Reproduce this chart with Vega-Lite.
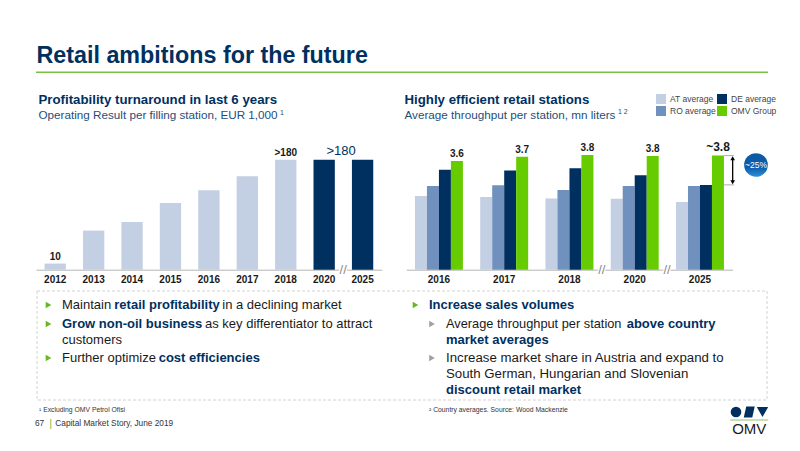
{
  "$schema": "https://vega.github.io/schema/vega-lite/v6.json",
  "description": "Retail ambitions for the future",
  "width": 800,
  "height": 451,
  "padding": 0,
  "autosize": {"type": "fit", "contains": "padding"},
  "background": "white",
  "config": {"view": {"stroke": null}, "font": "Liberation Sans"},
  "resolve": {"scale": {"x": "independent", "y": "independent", "color": "independent", "xOffset": "independent"}},
  "layer": [
    {
      "data": {"values": [{"from": 0, "to": 1, "top": 0, "bottom": 1}]},
      "mark": {"type": "rect", "fill": null, "stroke": "#d2d2d2", "strokeWidth": 1, "strokeDash": [3, 2]},
      "encoding": {
        "x": {"field": "from", "type": "quantitative", "axis": null, "scale": {"domain": [0, 1], "range": [37, 767]}},
        "x2": {"field": "to"},
        "y": {"field": "top", "type": "quantitative", "axis": null, "scale": {"domain": [0, 1], "range": [291, 400]}},
        "y2": {"field": "bottom"}
      }
    },
    {
      "data": {"values": [{"from": 0, "to": 1, "top": 0, "bottom": 1}]},
      "mark": {"type": "rect", "fill": "#7ac143"},
      "encoding": {
        "x": {"field": "from", "type": "quantitative", "axis": null, "scale": {"domain": [0, 1], "range": [36, 768]}},
        "x2": {"field": "to"},
        "y": {"field": "top", "type": "quantitative", "axis": null, "scale": {"domain": [0, 1], "range": [71.6, 73]}},
        "y2": {"field": "bottom"}
      }
    },
    {
      "encoding": {
        "x": {"field": "panel", "type": "nominal", "axis": null, "scale": {"type": "point", "padding": 0, "domain": ["left", "right"], "range": [38.5, 404.5]}},
        "y": {"field": "line", "type": "nominal", "axis": null, "scale": {"type": "point", "padding": 0, "domain": ["head", "sub"], "range": [100, 114.5]}},
        "text": {"field": "text"}
      },
      "layer": [
        {
          "data": {"values": [{"panel": "left", "line": "head", "text": "Retail ambitions for the future"}]},
          "mark": {"type": "text", "align": "left", "baseline": "middle", "fontWeight": "bold", "fontSize": 23.3, "color": "#00305f", "dx": -2, "dy": -44}
        },
        {
          "data": {"values": [
            {"panel": "left", "line": "head", "text": "Profitability turnaround in last 6 years"},
            {"panel": "right", "line": "head", "text": "Highly efficient retail stations"}
          ]},
          "mark": {"type": "text", "align": "left", "baseline": "middle", "fontWeight": "bold", "fontSize": 13.25, "color": "#00305f"}
        },
        {
          "data": {"values": [
            {"panel": "left", "line": "sub", "text": "Operating Result per filling station, EUR 1,000"},
            {"panel": "right", "line": "sub", "text": "Average throughput per station, mn liters"}
          ]},
          "mark": {"type": "text", "align": "left", "baseline": "middle", "fontSize": 11.7, "color": "#1f4e79"}
        },
        {
          "data": {"values": [{"panel": "left", "line": "sub", "text": "1"}]},
          "mark": {"type": "text", "align": "left", "baseline": "middle", "fontSize": 7, "color": "#1f4e79", "dx": 241.5, "dy": -2}
        },
        {
          "data": {"values": [{"panel": "right", "line": "sub", "text": "1  2"}]},
          "mark": {"type": "text", "align": "left", "baseline": "middle", "fontSize": 7, "color": "#1f4e79", "dx": 213.5, "dy": -3}
        }
      ]
    },
    {
      "encoding": {
        "x": {"field": "year", "type": "nominal", "title": null, "scale": {"type": "band", "domain": ["2012", "2013", "2014", "2015", "2016", "2017", "2018", "2020", "2025"], "range": [36, 381.8], "paddingInner": 0.445, "paddingOuter": 0.2225, "round": false},
          "axis": {"orient": "bottom", "offset": -181.3, "ticks": false, "labelAngle": 0, "labelFontSize": 10, "labelFontWeight": "bold", "labelColor": "#1a1a1a", "labelPadding": 5, "domainColor": "#b5b5b5", "domainWidth": 1, "grid": false}},
        "y": {"field": "value", "type": "quantitative", "axis": null, "scale": {"domain": [0, 180], "range": [269.7, 159.7]}}
      },
      "layer": [
        {
          "data": {"name": "profit", "values": [
            {"year": "2012", "value": 10, "period": "actual", "label": "10"},
            {"year": "2013", "value": 64, "period": "actual"},
            {"year": "2014", "value": 78, "period": "actual"},
            {"year": "2015", "value": 109, "period": "actual"},
            {"year": "2016", "value": 130, "period": "actual"},
            {"year": "2017", "value": 153, "period": "actual"},
            {"year": "2018", "value": 180, "period": "actual", "label": ">180"},
            {"year": "2020", "value": 180, "period": "target"},
            {"year": "2025", "value": 180, "period": "target"}
          ]},
          "mark": {"type": "bar"},
          "encoding": {
            "color": {"field": "period", "type": "nominal", "legend": null, "scale": {"domain": ["actual", "target"], "range": ["#c3cfe2", "#00305f"]}}
          }
        },
        {
          "data": {"name": "profit"},
          "transform": [{"filter": "datum.label"}],
          "mark": {"type": "text", "baseline": "bottom", "fontSize": 10, "fontWeight": "bold", "color": "#1a1a1a", "dy": -2},
          "encoding": {"text": {"field": "label"}}
        },
        {
          "data": {"values": [{"year": "2020", "value": 180, "label": ">180"}]},
          "mark": {"type": "text", "baseline": "bottom", "fontSize": 13, "color": "#00305f", "dx": 17, "dy": -2},
          "encoding": {"text": {"field": "label"}}
        },
        {
          "data": {"values": [{"year": "2020", "value": 0, "label": "//"}]},
          "mark": {"type": "text", "baseline": "middle", "fontSize": 13, "color": "white", "stroke": "white", "strokeWidth": 2.5, "dx": 19},
          "encoding": {"text": {"field": "label"}}
        },
        {
          "data": {"values": [{"year": "2020", "value": 0, "label": "//"}]},
          "mark": {"type": "text", "baseline": "middle", "fontSize": 13, "color": "#8a8a8a", "dx": 19},
          "encoding": {"text": {"field": "label"}}
        }
      ]
    },
    {
      "encoding": {
        "x": {"field": "year", "type": "nominal", "title": null, "scale": {"type": "band", "domain": ["2016", "2017", "2018", "2020", "2025"], "range": [406.3, 732.6], "paddingInner": 0.265, "paddingOuter": 0.1325, "round": false},
          "axis": {"orient": "bottom", "offset": -181.3, "ticks": false, "labelAngle": 0, "labelFontSize": 10, "labelFontWeight": "bold", "labelColor": "#1a1a1a", "labelPadding": 5, "domainColor": "#b5b5b5", "domainWidth": 1, "grid": false}},
        "y": {"field": "value", "type": "quantitative", "axis": null, "stack": null, "scale": {"domain": [0, 3.8], "range": [269.7, 155]}}
      },
      "layer": [
        {
          "data": {"name": "throughput", "values": [
            {"year": "2016", "series": "AT average", "value": 2.44},
            {"year": "2016", "series": "RO average", "value": 2.77},
            {"year": "2016", "series": "DE average", "value": 3.31},
            {"year": "2016", "series": "OMV Group", "value": 3.6, "label": "3.6"},
            {"year": "2017", "series": "AT average", "value": 2.41},
            {"year": "2017", "series": "RO average", "value": 2.8},
            {"year": "2017", "series": "DE average", "value": 3.29},
            {"year": "2017", "series": "OMV Group", "value": 3.74, "label": "3.7"},
            {"year": "2018", "series": "AT average", "value": 2.36},
            {"year": "2018", "series": "RO average", "value": 2.64},
            {"year": "2018", "series": "DE average", "value": 3.36},
            {"year": "2018", "series": "OMV Group", "value": 3.8, "label": "3.8"},
            {"year": "2020", "series": "AT average", "value": 2.35},
            {"year": "2020", "series": "RO average", "value": 2.77},
            {"year": "2020", "series": "DE average", "value": 3.13},
            {"year": "2020", "series": "OMV Group", "value": 3.77, "label": "3.8"},
            {"year": "2025", "series": "AT average", "value": 2.24},
            {"year": "2025", "series": "RO average", "value": 2.77},
            {"year": "2025", "series": "DE average", "value": 2.81},
            {"year": "2025", "series": "OMV Group", "value": 3.78}
          ]},
          "mark": {"type": "bar"},
          "encoding": {
            "xOffset": {"field": "series", "type": "nominal", "scale": {"domain": ["AT average", "RO average", "DE average", "OMV Group"], "padding": 0}},
            "color": {"field": "series", "type": "nominal",
              "scale": {"domain": ["AT average", "RO average", "DE average", "OMV Group"], "range": ["#c3cfe2", "#7090bd", "#00305f", "#66cc00"]},
              "legend": {"title": null, "orient": "none", "legendX": 656, "legendY": 94, "columns": 2, "symbolType": "square", "symbolSize": 100, "symbolStrokeWidth": 0, "labelFontSize": 8.5, "labelColor": "#444444", "labelOffset": 4, "columnPadding": 1, "rowPadding": 2, "padding": 0}}
          }
        },
        {
          "data": {"name": "throughput"},
          "transform": [{"filter": "datum.label"}],
          "mark": {"type": "text", "baseline": "bottom", "fontSize": 10, "fontWeight": "bold", "color": "#1a1a1a", "dy": -2},
          "encoding": {
            "xOffset": {"field": "series", "type": "nominal", "scale": {"domain": ["AT average", "RO average", "DE average", "OMV Group"], "padding": 0}},
            "text": {"field": "label"}
          }
        },
        {
          "data": {"values": [{"year": "2025", "value": 3.78, "label": "~3.8"}]},
          "mark": {"type": "text", "baseline": "bottom", "fontSize": 12, "fontWeight": "bold", "color": "#1a1a1a", "dx": 18, "dy": -2},
          "encoding": {"text": {"field": "label"}}
        },
        {
          "data": {"values": [{"year": "2018", "value": 0, "label": "//"}, {"year": "2020", "value": 0, "label": "//"}]},
          "mark": {"type": "text", "baseline": "middle", "fontSize": 13, "color": "white", "stroke": "white", "strokeWidth": 2.5, "dx": 32.3},
          "encoding": {"text": {"field": "label"}}
        },
        {
          "data": {"values": [{"year": "2018", "value": 0, "label": "//"}, {"year": "2020", "value": 0, "label": "//"}]},
          "mark": {"type": "text", "baseline": "middle", "fontSize": 13, "color": "#8a8a8a", "dx": 32.3},
          "encoding": {"text": {"field": "label"}}
        },
        {
          "data": {"values": [{"year": "2025", "value": 3.78}, {"year": "2025", "value": 2.81}]},
          "mark": {"type": "tick", "size": 10, "thickness": 1, "color": "#8a8a8a", "strokeDash": [2, 1], "xOffset": 29}
        },
        {
          "data": {"values": [{"year": "2025", "value": 3.7, "end": 2.89}]},
          "mark": {"type": "rule", "color": "#000000", "strokeWidth": 1.3, "xOffset": 32.7},
          "encoding": {"y2": {"field": "end"}}
        },
        {
          "data": {"values": [{"year": "2025", "value": 3.69}]},
          "mark": {"type": "point", "shape": "triangle-up", "filled": true, "size": 22, "color": "#000000", "opacity": 1, "xOffset": 32.7}
        },
        {
          "data": {"values": [{"year": "2025", "value": 2.9}]},
          "mark": {"type": "point", "shape": "triangle-down", "filled": true, "size": 22, "color": "#000000", "opacity": 1, "xOffset": 32.7}
        },
        {
          "data": {"values": [{"year": "2025", "value": 3.47, "label": "~25%"}]},
          "mark": {"type": "point", "shape": "circle", "filled": true, "size": 560, "opacity": 1, "xOffset": 56,
            "fill": {"gradient": "linear", "x1": 0.5, "y1": 0, "x2": 0.5, "y2": 1, "stops": [{"offset": 0, "color": "#0f5aa0"}, {"offset": 0.6, "color": "#0b5cab"}, {"offset": 1, "color": "#2f8fd8"}]}}
        },
        {
          "data": {"values": [{"year": "2025", "value": 3.47, "label": "~25%"}]},
          "mark": {"type": "text", "baseline": "middle", "fontSize": 8.5, "color": "#ffffff", "dx": 56},
          "encoding": {"text": {"field": "label"}}
        }
      ]
    },
    {
      "encoding": {
        "x": {"field": "panel", "type": "nominal", "axis": null, "scale": {"type": "point", "padding": 0, "domain": ["left", "right"], "range": [62, 429]}},
        "y": {"field": "line", "type": "nominal", "axis": null, "scale": {"type": "point", "padding": 0, "domain": ["l1", "l2", "l3", "l4", "l5", "l6"], "range": [305, 390]}},
        "text": {"field": "text"}
      },
      "layer": [
        {"data": {"values": [{"panel": "left", "line": "l1"}, {"panel": "right", "line": "l1"}]},
         "mark": {"type": "point", "shape": "triangle-right", "filled": true, "size": 42, "color": "#66b821", "opacity": 1, "xOffset": -13.5}},
        {"data": {"values": [{"panel": "left", "line": "l2"}, {"panel": "left", "line": "l4"}]},
         "mark": {"type": "point", "shape": "triangle-right", "filled": true, "size": 42, "color": "#66b821", "opacity": 1, "xOffset": -13.5, "yOffset": 2}},
        {"data": {"values": [{"panel": "right", "line": "l2"}, {"panel": "right", "line": "l4"}]},
         "mark": {"type": "point", "shape": "triangle-right", "filled": true, "size": 42, "color": "#a0a0a0", "opacity": 1, "xOffset": 3, "yOffset": 2}},
        {"data": {"values": [{"panel": "left", "line": "l1", "text": "Maintain"}]},
         "mark": {"type": "text", "align": "left", "baseline": "middle", "fontSize": 13, "color": "#1a1a1a"}},
        {"data": {"values": [{"panel": "left", "line": "l1", "text": "retail profitability"}]},
         "mark": {"type": "text", "align": "left", "baseline": "middle", "fontSize": 13, "fontWeight": "bold", "color": "#00305f", "dx": 52.3}},
        {"data": {"values": [{"panel": "left", "line": "l1", "text": "in a declining market"}]},
         "mark": {"type": "text", "align": "left", "baseline": "middle", "fontSize": 13, "color": "#1a1a1a", "dx": 160.3}},
        {"data": {"values": [{"panel": "left", "line": "l2", "text": "Grow non-oil business"}]},
         "mark": {"type": "text", "align": "left", "baseline": "middle", "fontSize": 13, "fontWeight": "bold", "color": "#00305f", "dy": 2}},
        {"data": {"values": [{"panel": "left", "line": "l2", "text": "as key differentiator to attract"}]},
         "mark": {"type": "text", "align": "left", "baseline": "middle", "fontSize": 13, "color": "#1a1a1a", "dx": 143, "dy": 2}},
        {"data": {"values": [{"panel": "left", "line": "l3", "text": "customers"}]},
         "mark": {"type": "text", "align": "left", "baseline": "middle", "fontSize": 13, "color": "#1a1a1a", "dy": 1}},
        {"data": {"values": [{"panel": "left", "line": "l4", "text": "Further optimize"}]},
         "mark": {"type": "text", "align": "left", "baseline": "middle", "fontSize": 13, "color": "#1a1a1a", "dy": 2}},
        {"data": {"values": [{"panel": "left", "line": "l4", "text": "cost efficiencies"}]},
         "mark": {"type": "text", "align": "left", "baseline": "middle", "fontSize": 13, "fontWeight": "bold", "color": "#00305f", "dx": 96.7, "dy": 2}},
        {"data": {"values": [{"panel": "right", "line": "l1", "text": "Increase sales volumes"}]},
         "mark": {"type": "text", "align": "left", "baseline": "middle", "fontSize": 13, "fontWeight": "bold", "color": "#00305f"}},
        {"data": {"values": [{"panel": "right", "line": "l2", "text": "Average throughput per station"}]},
         "mark": {"type": "text", "align": "left", "baseline": "middle", "fontSize": 12.8, "color": "#1a1a1a", "dx": 17, "dy": 2}},
        {"data": {"values": [{"panel": "right", "line": "l2", "text": "above country"}]},
         "mark": {"type": "text", "align": "left", "baseline": "middle", "fontSize": 13, "fontWeight": "bold", "color": "#00305f", "dx": 197.7, "dy": 2}},
        {"data": {"values": [{"panel": "right", "line": "l3", "text": "market averages"}]},
         "mark": {"type": "text", "align": "left", "baseline": "middle", "fontSize": 13, "fontWeight": "bold", "color": "#00305f", "dx": 17, "dy": 1}},
        {"data": {"values": [{"panel": "right", "line": "l4", "text": "Increase market share in Austria and expand to"}]},
         "mark": {"type": "text", "align": "left", "baseline": "middle", "fontSize": 13.25, "color": "#1a1a1a", "dx": 17, "dy": 2}},
        {"data": {"values": [{"panel": "right", "line": "l5", "text": "South German, Hungarian and Slovenian"}]},
         "mark": {"type": "text", "align": "left", "baseline": "middle", "fontSize": 13.25, "color": "#1a1a1a", "dx": 17, "dy": 1}},
        {"data": {"values": [{"panel": "right", "line": "l6", "text": "discount retail market"}]},
         "mark": {"type": "text", "align": "left", "baseline": "middle", "fontSize": 13, "fontWeight": "bold", "color": "#00305f", "dx": 17}}
      ]
    },
    {
      "encoding": {
        "x": {"field": "panel", "type": "nominal", "axis": null, "scale": {"type": "point", "padding": 0, "domain": ["left", "right"], "range": [39, 429]}},
        "y": {"field": "line", "type": "nominal", "axis": null, "scale": {"type": "point", "padding": 0, "domain": ["notes", "page"], "range": [409.5, 423.5]}},
        "text": {"field": "text"}
      },
      "layer": [
        {"data": {"values": [
          {"panel": "left", "line": "notes", "text": "¹  Excluding OMV Petrol Ofisi"},
          {"panel": "right", "line": "notes", "text": "² Country averages. Source: Wood Mackenzie"}
        ]},
         "mark": {"type": "text", "align": "left", "baseline": "middle", "fontSize": 6.8, "color": "#333333"}},
        {"data": {"values": [{"panel": "left", "line": "page", "text": "67"}]},
         "mark": {"type": "text", "align": "left", "baseline": "middle", "fontSize": 8.3, "color": "#333333", "dx": -4}},
        {"data": {"values": [{"panel": "left", "line": "page", "text": "|"}]},
         "mark": {"type": "text", "align": "center", "baseline": "middle", "fontSize": 11, "color": "#7ac143", "dx": 11.7}},
        {"data": {"values": [{"panel": "left", "line": "page", "text": "Capital Market Story, June 2019"}]},
         "mark": {"type": "text", "align": "left", "baseline": "middle", "fontSize": 8.3, "color": "#333333", "dx": 16.3}}
      ]
    },
    {
      "data": {"values": [{"part": "O", "row": "mark"}, {"part": "M", "row": "mark"}, {"part": "V", "row": "mark"}, {"part": "M", "row": "rule"}, {"part": "M", "row": "name", "text": "OMV"}]},
      "encoding": {
        "x": {"field": "part", "type": "nominal", "axis": null, "scale": {"type": "point", "padding": 0, "domain": ["O", "M", "V"], "range": [736, 762.5]}},
        "y": {"field": "row", "type": "nominal", "axis": null, "scale": {"type": "point", "padding": 0, "domain": ["mark", "rule", "name"], "range": [412, 428]}}
      },
      "layer": [
        {"transform": [{"filter": "datum.part === 'O' && datum.row === 'mark'"}],
         "mark": {"type": "point", "shape": "circle", "filled": true, "size": 113, "color": "#00305f", "opacity": 1}},
        {"transform": [{"filter": "datum.part === 'M' && datum.row === 'mark'"}],
         "mark": {"type": "point", "shape": "M -1 1 L -0.55 -1 L 1 -1 L 0.55 1 Z", "filled": true, "size": 120, "color": "#00305f", "opacity": 1}},
        {"transform": [{"filter": "datum.part === 'V' && datum.row === 'mark'"}],
         "mark": {"type": "point", "shape": "triangle-down", "filled": true, "size": 130, "color": "#00305f", "opacity": 1}},
        {"transform": [{"filter": "datum.row === 'rule'"}],
         "mark": {"type": "tick", "orient": "horizontal", "size": 38, "thickness": 1.2, "color": "#8fc46a", "opacity": 1}},
        {"transform": [{"filter": "datum.row === 'name'"}],
         "mark": {"type": "text", "baseline": "middle", "fontSize": 15, "color": "#1a1a1a", "dy": 1},
         "encoding": {"text": {"field": "text"}}}
      ]
    }
  ]
}
